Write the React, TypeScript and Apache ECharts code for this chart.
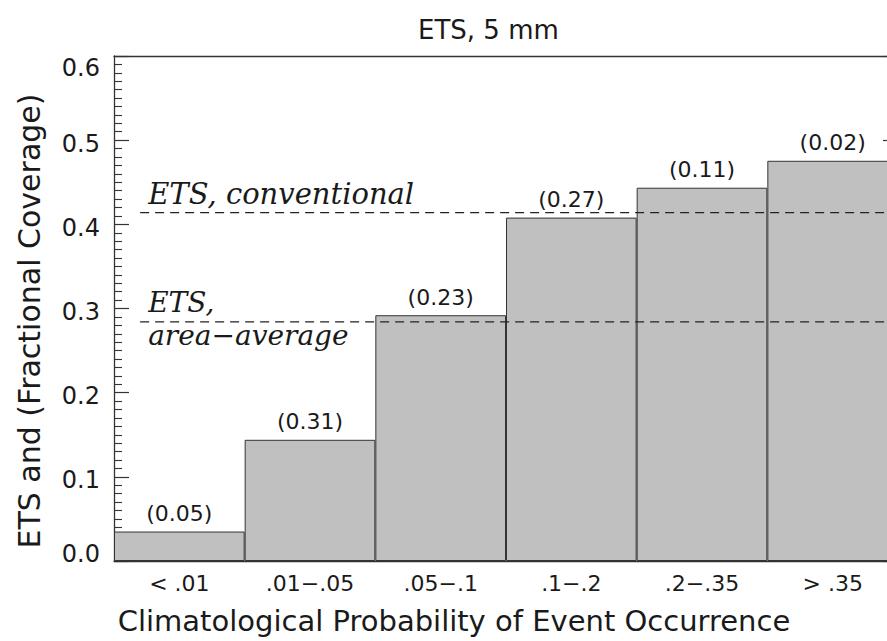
import { useEffect, useRef } from "react";
import * as echarts from "echarts";

// ---- data ----
const categories = ["< .01", ".01\u2212.05", ".05\u2212.1", ".1\u2212.2", ".2\u2212.35", "> .35"];
const etsValues = [0.035, 0.144, 0.292, 0.408, 0.4435, 0.4755];
const coverageLabels = ["0.05", "0.31", "0.23", "0.27", "0.11", "0.02"];
const etsConventional = 0.414;
const etsAreaAverage = 0.284;
const refLineSpan = [0.2, 6];
const yMin = 0;
const yMax = 0.6;
const yInterval = 0.1;

const SANS = "DejaVu Sans";
const SERIF = "DejaVu Serif";
const INK = "#1a1a1a";

export default function App() {
  const ref = useRef<HTMLDivElement>(null);

  useEffect(() => {
    if (!ref.current) return;
    const chart = echarts.init(ref.current, undefined, { renderer: "svg" });

    const yAxisCommon = {
      type: "value" as const,
      min: yMin,
      max: yMax,
      interval: yInterval,
      splitLine: { show: false },
      axisLine: { show: true, lineStyle: { color: "#333", width: 1.3 } },
      axisTick: { show: true, inside: true, length: 15, lineStyle: { color: "#333", width: 1.2 } },
      minorTick: { show: true, splitNumber: 10, length: 8, lineStyle: { color: "#333", width: 1.1 } },
      minorSplitLine: { show: false },
    };

    const tickText = { fontFamily: SANS, fontSize: 24, color: INK };

    chart.setOption({
      animation: false,
      backgroundColor: "#ffffff",
      title: {
        text: "ETS, 5 mm",
        left: 413,
        top: 12,
        textStyle: { fontFamily: SANS, fontSize: 26, fontWeight: "normal", color: INK },
      },
      grid: {
        left: 114,
        right: -11,
        top: 56,
        bottom: 80,
        containLabel: false,
        outerBoundsMode: "none",
      },
      xAxis: [
        {
          type: "category",
          position: "bottom",
          data: categories,
          axisLine: { show: true, lineStyle: { color: "#333", width: 1.3 } },
          axisTick: { show: false },
          axisLabel: { fontFamily: SANS, fontSize: 22, color: INK, margin: 11, interval: 0 },
          name: "Climatological Probability of Event Occurrence",
          nameLocation: "middle",
          nameGap: 45,
          nameTextStyle: { fontFamily: SANS, fontSize: 29, color: INK, padding: [0, 104, 0, 0] },
        },
        {
          type: "value",
          position: "top",
          min: 0,
          max: 6,
          axisLine: { show: true, onZero: false, lineStyle: { color: "#333", width: 1.3 } },
          axisTick: { show: false },
          axisLabel: { show: false },
          splitLine: { show: false },
        },
      ],
      yAxis: [
        {
          ...yAxisCommon,
          position: "left",
          axisLabel: {
            margin: 14,
            formatter: (v: number) => {
              const s = v.toFixed(1);
              if (v <= yMin + 1e-9) return `{lo|${s}}`;
              if (v >= yMax - 1e-9) return `{hi|${s}}`;
              return `{n|${s}}`;
            },
            rich: {
              n: { ...tickText, padding: [7, 0, 0, 0] },
              lo: { ...tickText, padding: [0, 0, 14, 0] },
              hi: { ...tickText, padding: [24, 0, 0, 0] },
            },
          },
          name: "ETS and (Fractional Coverage)",
          nameLocation: "middle",
          nameGap: 70,
          nameRotate: 90,
          nameTextStyle: { fontFamily: SANS, fontSize: 30, color: INK, padding: [0, 25, 0, 0] },
        },
        {
          ...yAxisCommon,
          position: "right",
          axisLabel: { show: false },
        },
      ],
      series: [
        {
          type: "bar",
          xAxisIndex: 0,
          yAxisIndex: 0,
          data: etsValues,
          barCategoryGap: "0%",
          itemStyle: { color: "#c0c0c0", borderColor: "#333", borderWidth: 1 },
          label: {
            show: true,
            position: "top",
            distance: 7,
            fontFamily: SANS,
            fontSize: 22,
            color: INK,
            formatter: (p: any) => `(${coverageLabels[p.dataIndex]})`,
          },
          silent: true,
        },
        {
          type: "line",
          xAxisIndex: 1,
          yAxisIndex: 0,
          data: [
            [refLineSpan[0], etsConventional],
            [refLineSpan[1], etsConventional],
          ],
          symbol: "none",
          lineStyle: { color: "#222", width: 1.3, type: [9, 6] },
          silent: true,
          z: 5,
        },
        {
          type: "line",
          xAxisIndex: 1,
          yAxisIndex: 0,
          data: [
            [refLineSpan[0], etsAreaAverage],
            [refLineSpan[1], etsAreaAverage],
          ],
          symbol: "none",
          lineStyle: { color: "#222", width: 1.3, type: [9, 6] },
          silent: true,
          z: 5,
        },
      ],
    });

    const pc = chart.convertToPixel({ xAxisIndex: 1, yAxisIndex: 0 }, [refLineSpan[0], etsConventional]) as number[];
    const pa = chart.convertToPixel({ xAxisIndex: 1, yAxisIndex: 0 }, [refLineSpan[0], etsAreaAverage]) as number[];
    const serifStyle = { fontFamily: SERIF, fontStyle: "italic", fontSize: 28, fill: INK };

    chart.setOption({
      graphic: [
        {
          type: "text",
          x: pc[0] + 8,
          y: pc[1] - 19,
          style: { ...serifStyle, fontSize: 29, text: "ETS, conventional", verticalAlign: "middle", align: "left" },
          silent: true,
        },
        {
          type: "text",
          x: pa[0] + 8,
          y: pa[1] - 19,
          style: { ...serifStyle, text: "ETS,", verticalAlign: "middle", align: "left" },
          silent: true,
        },
        {
          type: "text",
          x: pa[0] + 8,
          y: pa[1] + 14,
          style: { ...serifStyle, text: "area\u2212average", verticalAlign: "middle", align: "left" },
          silent: true,
        },
      ],
    });

    return () => chart.dispose();
  }, []);

  return (
    <div
      ref={ref}
      style={{ position: "fixed", left: 0, top: 0, width: 887, height: 641, background: "#fff" }}
    />
  );
}
